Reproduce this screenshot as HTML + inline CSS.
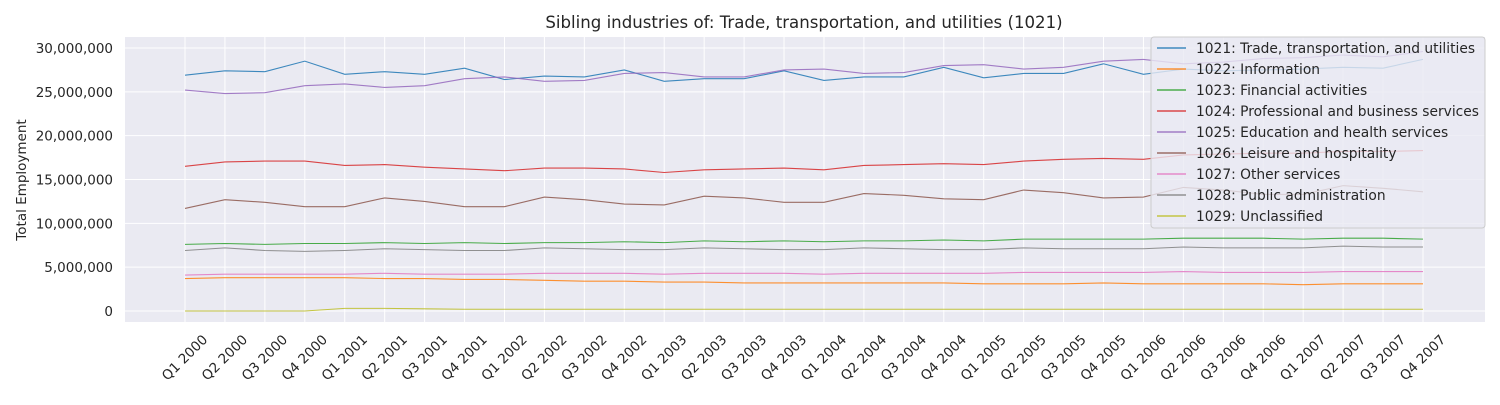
<!DOCTYPE html>
<html><head><meta charset="utf-8"><style>
body{margin:0;background:#fff;font-family:"Liberation Sans","DejaVu Sans",sans-serif}
svg text{font-family:"DejaVu Sans","Liberation Sans",sans-serif;fill:#262626}
</style></head><body>
<svg id="chart" width="1500" height="400" xmlns="http://www.w3.org/2000/svg">
<text x="804" y="28" font-size="16.6" text-anchor="middle">Sibling industries of: Trade, transportation, and utilities (1021)</text>
<rect x="125" y="37" width="1360" height="285" fill="#eaeaf2"/>
<g id="grid"></g><g id="series"></g><g id="axes"></g><g id="legend"></g>
<text transform="translate(26,180) rotate(-90)" font-size="13.5" text-anchor="middle">Total Employment</text>
</svg>
<script>
const categories=[];for(let y=2000;y<=2007;y++)for(let q=1;q<=4;q++)categories.push('Q'+q+' '+y);
const yTicks=[0,5e6,10e6,15e6,20e6,25e6,30e6];
const names=["1021: Trade, transportation, and utilities","1022: Information","1023: Financial activities","1024: Professional and business services","1025: Education and health services","1026: Leisure and hospitality","1027: Other services","1028: Public administration","1029: Unclassified"];
const colors=["#1f77b4","#ff7f0e","#2ca02c","#d62728","#9467bd","#8c564b","#e377c2","#7f7f7f","#bcbd22"];
const s1021=[26.9,27.4,27.3,28.5,27.0,27.3,27.0,27.7,26.4,26.8,26.7,27.5,26.2,26.5,26.5,27.4,26.3,26.7,26.7,27.8,26.6,27.1,27.1,28.2,27.0,27.6,27.4,27.5,27.6,27.8,27.7,28.7];
const s1022=[3.7,3.8,3.8,3.8,3.8,3.7,3.7,3.6,3.6,3.5,3.4,3.4,3.3,3.3,3.2,3.2,3.2,3.2,3.2,3.2,3.1,3.1,3.1,3.2,3.1,3.1,3.1,3.1,3.0,3.1,3.1,3.1];
const s1023=[7.6,7.7,7.6,7.7,7.7,7.8,7.7,7.8,7.7,7.8,7.8,7.9,7.8,8.0,7.9,8.0,7.9,8.0,8.0,8.1,8.0,8.2,8.2,8.2,8.2,8.3,8.3,8.3,8.2,8.3,8.3,8.2];
const s1024=[16.5,17.0,17.1,17.1,16.6,16.7,16.4,16.2,16.0,16.3,16.3,16.2,15.8,16.1,16.2,16.3,16.1,16.6,16.7,16.8,16.7,17.1,17.3,17.4,17.3,17.8,17.9,18.0,18.0,18.2,18.2,18.3];
const s1025=[25.2,24.8,24.9,25.7,25.9,25.5,25.7,26.5,26.7,26.2,26.3,27.1,27.2,26.7,26.7,27.5,27.6,27.1,27.2,28.0,28.1,27.6,27.8,28.5,28.7,28.2,28.4,28.8,28.9,29.2,29.0,29.6];
const s1026=[11.7,12.7,12.4,11.9,11.9,12.9,12.5,11.9,11.9,13.0,12.7,12.2,12.1,13.1,12.9,12.4,12.4,13.4,13.2,12.8,12.7,13.8,13.5,12.9,13.0,14.1,13.8,13.3,13.3,14.3,14.0,13.6];
const s1027=[4.1,4.2,4.2,4.2,4.2,4.3,4.2,4.2,4.2,4.3,4.3,4.3,4.2,4.3,4.3,4.3,4.2,4.3,4.3,4.3,4.3,4.4,4.4,4.4,4.4,4.5,4.4,4.4,4.4,4.5,4.5,4.5];
const s1028=[6.9,7.2,6.9,6.8,6.9,7.1,7.0,6.9,6.9,7.2,7.1,7.0,7.0,7.2,7.1,7.0,7.0,7.2,7.1,7.0,7.0,7.2,7.1,7.1,7.1,7.3,7.2,7.2,7.2,7.4,7.3,7.3];
const s1029=[0,0,0,0,0.3,0.3,0.25,0.2,0.2,0.2,0.2,0.2,0.2,0.2,0.2,0.2,0.2,0.2,0.2,0.2,0.2,0.2,0.2,0.2,0.2,0.2,0.2,0.2,0.2,0.2,0.2,0.2];
const series=[s1021,s1022,s1023,s1024,s1025,s1026,s1027,s1028,s1029];
const NS='http://www.w3.org/2000/svg';
const xS=i=>185+i*(1423-185)/(categories.length-1);
const yS=v=>311-v*(311-48)/30e6;
function mk(t,a,p){const e=document.createElementNS(NS,t);for(const k in a)e.setAttribute(k,a[k]);p.appendChild(e);return e;}
const grid=document.getElementById('grid'),axes=document.getElementById('axes');
yTicks.forEach(v=>{
 const l=mk('line',{x1:125,x2:1485,y1:yS(v),y2:yS(v),stroke:'#fff','stroke-width':1},grid);
 
 
 const t=mk('text',{x:113,y:yS(v)+5,'font-size':13.5,'text-anchor':'end'},axes);t.textContent=v.toLocaleString('en-US');
 
 
});
categories.forEach((c,i)=>{
 const l=mk('line',{x1:xS(i),x2:xS(i),y1:37,y2:322,stroke:'#fff','stroke-width':1},grid);
 
 
 const t=mk('text',{transform:`translate(${xS(i)},358) rotate(-45)`,'font-size':13.5,'text-anchor':'middle','dominant-baseline':'central'},axes);t.textContent=c;
 
 
});
const sg=document.getElementById('series');
series.forEach((s,k)=>{
 const p=mk('polyline',{points:s.map((v,i)=>xS(i)+','+yS(v*1e6)).join(' '),fill:'none',stroke:colors[k],'stroke-width':1.1,opacity:0.85},sg);
 
 
});
const lg=document.getElementById('legend');
const box=mk('rect',{x:1151,y:37,width:334,height:191,rx:3,fill:'#eaeaf2','fill-opacity':0.8,stroke:'#ccc'},lg);


names.forEach((n,k)=>{
 const y=48+k*21;
 const g=mk('g',{},lg);
 
 
 mk('line',{x1:1157,x2:1186,y1:y,y2:y,stroke:colors[k],'stroke-width':1.3},g);
 const t=mk('text',{x:1196,y:y+5,'font-size':13.8},g);t.textContent=n;
});
</script>
</body></html>
